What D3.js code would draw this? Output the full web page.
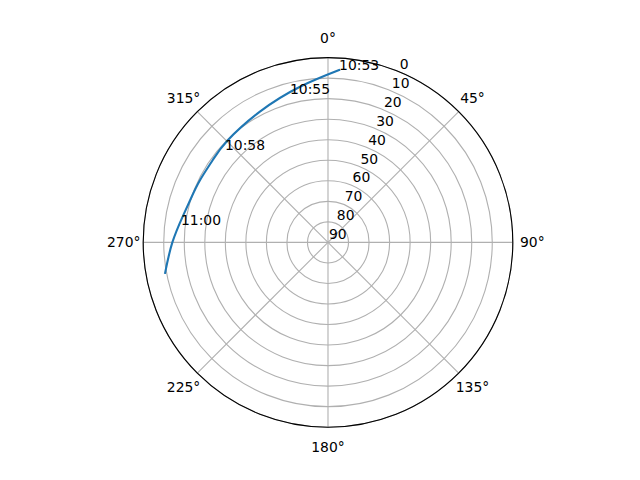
<meta charset="utf-8">
<head>
    <script type="text/javascript" src="https://cdn.jsdelivr.net/npm/d3@7/dist/d3.min.js"></script>
    <style>
        body { margin: 0; background: #ffffff; }
        text { font-family: "DejaVu Sans", sans-serif; font-size: 13.9px; fill: #000000; }
    </style>
</head>
<body>
    <svg width=640 height=480></svg>
</body>
<script>
    // satellite track, azimuth (deg, clockwise from north) and elevation (deg)
    let trackAz = [3.7, 349.8, 332.5, 315.3, 305.7, 296.0, 288.5, 280.7, 270.0, 259.4];
    let trackEl = [5.9, 13.0, 18.2, 20.3, 21.0, 20.7, 20.0, 18.3, 14.2, 9.3];

    // time labels along the track
    let labelTimes = ["10:53", "10:55", "10:58", "11:00"];
    let labelAz = [3.7, 345.6, 311.9, 276.8];
    let labelEl = [6.1, 15.5, 22.6, 17.9];

    // axis ticks
    let thetaTicks = [0, 45, 90, 135, 180, 225, 270, 315];
    let rTicks = [0, 10, 20, 30, 40, 50, 60, 70, 80, 90];

    let cx = 328, cy = 242.4, R = 184.8;
    let rLabelAngle = 22.5;

    let r = d3.scaleLinear().domain([90, 0]).range([0, R]);
    let angle = d3.scaleLinear().domain([0, 360]).range([0, 2 * Math.PI]);

    function px(az, rad) { return rad * Math.sin(angle(az)); }
    function py(az, rad) { return -rad * Math.cos(angle(az)); }

    let svg = d3.select('svg');
    let g = svg.append("g").attr("transform", `translate(${cx}, ${cy})`);

    // grid rings
    g.selectAll("circle.ring")
        .data(rTicks.filter(d => d !== 90))
        .enter()
        .append("circle")
        .attr("class", "ring")
        .attr("r", d => r(d))
        .attr("fill", "none")
        .attr("stroke", "#b0b0b0")
        .attr("stroke-width", 1.1);

    // radial grid lines
    g.selectAll("line.spoke")
        .data(thetaTicks)
        .enter()
        .append("line")
        .attr("class", "spoke")
        .attr("x1", 0).attr("y1", 0)
        .attr("x2", d => px(d, R))
        .attr("y2", d => py(d, R))
        .attr("stroke", "#b0b0b0")
        .attr("stroke-width", 1.1);

    // track
    let line = d3.lineRadial()
        .angle((d, i) => angle(trackAz[i]))
        .radius((d, i) => r(trackEl[i]))
        .curve(d3.curveNatural);

    g.append("path")
        .attr("d", line(trackAz))
        .attr("fill", "none")
        .attr("stroke", "#1f77b4")
        .attr("stroke-width", 2.1)
        .attr("stroke-linecap", "square");

    // outer spine
    g.append("circle")
        .attr("r", R)
        .attr("fill", "none")
        .attr("stroke", "#000000")
        .attr("stroke-width", 1.1);

    // theta labels
    g.selectAll("text.theta")
        .data(thetaTicks)
        .enter()
        .append("text")
        .attr("class", "theta")
        .attr("x", d => px(d, R + 19.5))
        .attr("y", d => py(d, R + 19.5))
        .attr("dy", "0.35em")
        .attr("text-anchor", "middle")
        .text(d => d + "°");

    // radial labels
    g.selectAll("text.rlabel")
        .data(rTicks)
        .enter()
        .append("text")
        .attr("class", "rlabel")
        .attr("x", d => px(rLabelAngle, r(d)))
        .attr("y", d => py(rLabelAngle, r(d)))
        .attr("dx", 1)
        .attr("dy", -3)
        .text(d => d);

    // time labels
    g.selectAll("text.time")
        .data(labelTimes)
        .enter()
        .append("text")
        .attr("class", "time")
        .attr("x", (d, i) => px(labelAz[i], r(labelEl[i])))
        .attr("y", (d, i) => py(labelAz[i], r(labelEl[i])))
        .text(d => d);
</script>
